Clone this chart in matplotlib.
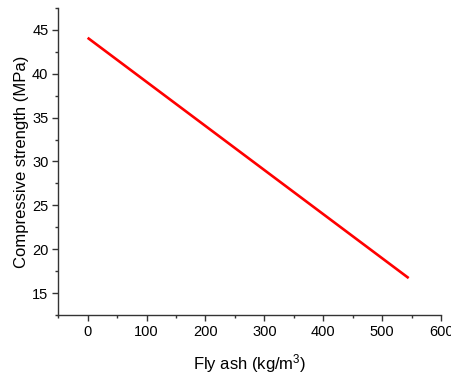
import numpy as np
import matplotlib.pyplot as plt
from matplotlib.ticker import MultipleLocator

# Fitted relation: fly ash content vs compressive strength
fly_ash = [0, 545]
strength = [44.1, 16.7]

plt.rcParams['font.family'] = ['Liberation Sans', 'DejaVu Sans']
plt.rcParams['mathtext.fontset'] = 'custom'
plt.rcParams['mathtext.rm'] = 'Liberation Sans'

fig = plt.figure(figsize=(4.51, 3.79), dpi=100)
ax = fig.add_axes([0.129, 0.169, 0.849, 0.810])

ax.plot(fly_ash, strength, color='red', lw=1.9, solid_capstyle='butt')

ax.set_xlim(-50, 600)
ax.set_ylim(12.5, 47.5)
ax.xaxis.set_major_locator(MultipleLocator(100))
ax.xaxis.set_minor_locator(MultipleLocator(50))
ax.yaxis.set_major_locator(MultipleLocator(5))
ax.yaxis.set_minor_locator(MultipleLocator(2.5))

for side in ['top', 'right']:
  ax.spines[side].set_visible(False)
for side in ['left', 'bottom']:
  ax.spines[side].set_linewidth(1.0)
  ax.spines[side].set_color('#333333')

ax.tick_params(which='major', direction='out', length=4, width=1.0, color='#333333', labelsize=10.5, pad=3)
ax.tick_params(which='minor', direction='out', length=2.5, width=1.0, color='#333333')

ax.set_xlabel('Fly ash (kg/m$\\mathrm{^3}$)', fontsize=12, labelpad=10)
ax.set_ylabel('Compressive strength (MPa)', fontsize=12, labelpad=2)

fig.savefig('out.png', dpi=100)
